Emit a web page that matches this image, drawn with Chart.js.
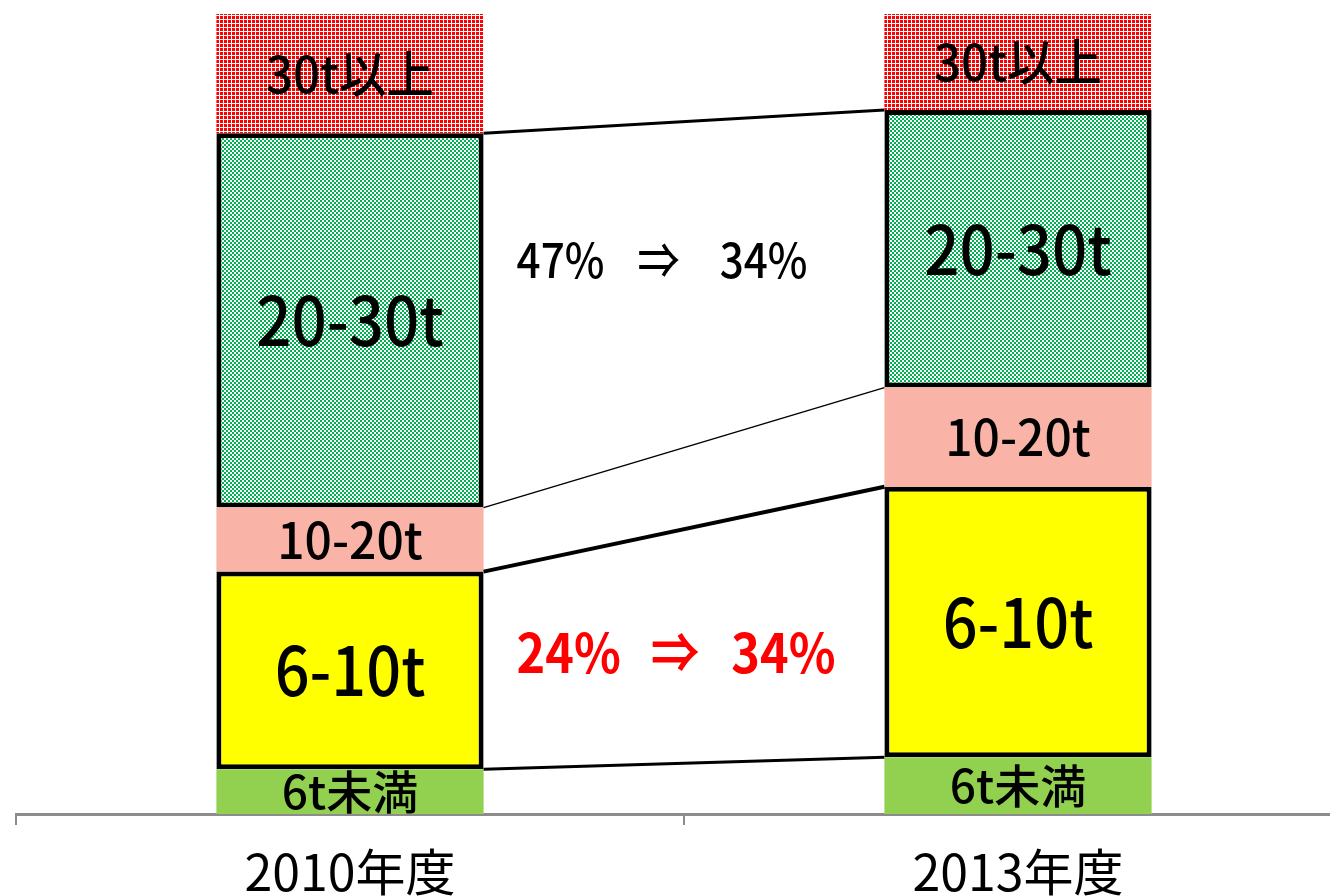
<!DOCTYPE html>
<html lang="ja">
<head>
<meta charset="utf-8">
<script src="https://cdn.jsdelivr.net/npm/chart.js@4.4.1/dist/chart.umd.min.js"></script>
<style>
  html, body { margin: 0; padding: 0; background: #fff; overflow: hidden; }
  canvas { display: block; }
</style>
</head>
<body>
<canvas id="chart" width="1366" height="926"></canvas>
<script>
// Share of trucks by size class (%), 2010 vs 2013
const years = ["2010年度", "2013年度"];
const sizeClasses = ["6t未満", "6-10t", "10-20t", "20-30t", "30t以上"];
const under6 = [5.6, 7.1];
const from6to10 = [24.7, 33.8];
const from10to20 = [8.0, 12.4];
const from20to30 = [46.8, 34.7];
const over30 = [14.9, 12.0];
const shiftNotes = [["47%", "⇒", "34%"], ["24%", "⇒", "34%"]];

const FONT = '"Noto Sans CJK JP", "Noto Sans", sans-serif';

// small tiled fills for the hatched segments
function makePattern(color, cells, size) {
  const c = document.createElement("canvas");
  c.width = size;
  c.height = size;
  const g = c.getContext("2d");
  g.fillStyle = "#fff";
  g.fillRect(0, 0, size, size);
  g.fillStyle = color;
  cells.forEach((r) => g.fillRect(r[0], r[1], r[2], r[3]));
  return g.createPattern(c, "repeat");
}
const greenCheck = makePattern("#00b050", [[0, 0, 2, 2], [2, 2, 2, 2]], 4);
const redDots = makePattern("#ff0000", [[0, 0, 3, 3]], 4);

function drawText(ctx, text, x, y, size, sx, color, weight, align) {
  ctx.save();
  ctx.font = `${weight || "normal"} ${size}px ${FONT}`;
  ctx.fillStyle = color;
  ctx.textAlign = align || "center";
  ctx.textBaseline = "middle";
  ctx.translate(x, y);
  ctx.scale(sx, 1);
  ctx.fillText(text, 0, 0);
  ctx.restore();
}

// connector lines between the two bars + labels inside segments
const overlayPlugin = {
  id: "overlay",
  afterDatasetsDraw(chart, args, opts) {
    const ctx = chart.ctx;

    opts.connectors.forEach((c) => {
      const meta = chart.getDatasetMeta(c.dataset);
      const a = meta.data[0];
      const b = meta.data[1];
      const ax = a.x + a.width / 2;
      const bx = b.x - b.width / 2;
      ctx.save();
      ctx.strokeStyle = "#000";
      ctx.lineWidth = c.top;
      ctx.beginPath();
      ctx.moveTo(ax, a.y);
      ctx.lineTo(bx, b.y);
      ctx.stroke();
      ctx.lineWidth = c.bottom;
      ctx.beginPath();
      ctx.moveTo(ax, a.base);
      ctx.lineTo(bx, b.base);
      ctx.stroke();
      ctx.restore();
    });

    chart.data.datasets.forEach((ds, i) => {
      const meta = chart.getDatasetMeta(i);
      const st = opts.labelStyle[i];
      meta.data.forEach((bar) => {
        const cy = (bar.y + bar.base) / 2;
        drawText(ctx, ds.label, bar.x, cy, st.size, st.sx, "#000", st.weight);
      });
    });

    const yScale = chart.scales.y;
    const first = chart.getDatasetMeta(0).data[0];
    const x0 = first.x + first.width / 2 + opts.noteGap;
    opts.notes.forEach((n, k) => {
      const parts = shiftNotes[k];
      const y = yScale.getPixelForValue(n.level);
      ctx.save();
      ctx.font = `${n.weight} ${n.size}px ${FONT}`;
      let x = x0;
      parts.forEach((p, j) => {
        const w = ctx.measureText(p).width * n.sx;
        drawText(ctx, p, x, y, n.size, n.sx, n.color, n.weight, "left");
        x += w + n.gaps[j];
      });
      ctx.restore();
    });
  },
};

const fills = ["#92d050", "#ffff00", "#f9b3a7", greenCheck, redDots];
const borders = [0, 5, 0, 5, 0];
const seriesValues = [under6, from6to10, from10to20, from20to30, over30];

new Chart(document.getElementById("chart"), {
  type: "bar",
  data: {
    labels: years,
    datasets: sizeClasses.map((name, i) => ({
      label: name,
      data: seriesValues[i],
      backgroundColor: fills[i],
      borderColor: "#000",
      borderWidth: borders[i],
      borderSkipped: false,
      barPercentage: 0.4,
      categoryPercentage: 1,
    })),
  },
  plugins: [overlayPlugin],
  options: {
    responsive: false,
    animation: false,
    layout: { padding: { left: 16, right: 14, top: 14, bottom: 7 } },
    plugins: {
      legend: { display: false },
      tooltip: { enabled: false },
      overlay: {
        connectors: [
          { dataset: 3, top: 3, bottom: 1.5 },
          { dataset: 1, top: 4, bottom: 3 },
        ],
        labelStyle: [
          { size: 46, sx: 1, weight: "500" },
          { size: 68, sx: 0.9, weight: "500" },
          { size: 50, sx: 0.96, weight: "500" },
          { size: 68, sx: 0.91, weight: "500" },
          { size: 50, sx: 0.95, weight: "500" },
        ],
        noteGap: 33,
        notes: [
          { level: 69.3, size: 48, sx: 0.88, color: "#000", weight: "500", gaps: [33, 40] },
          { level: 20.2, size: 54, sx: 0.9, color: "#ff0000", weight: "bold", gaps: [30, 32] },
        ],
      },
    },
    scales: {
      x: {
        stacked: true,
        grid: {
          offset: true,
          drawOnChartArea: false,
          drawTicks: true,
          tickLength: 11,
          color: "#8c8c8c",
          lineWidth: 2,
        },
        border: { display: true, color: "#8c8c8c", width: 3 },
        ticks: {
          color: "#000",
          padding: 17,
          font: { family: FONT, size: 50 },
        },
      },
      y: {
        stacked: true,
        display: false,
        min: 0,
        max: 100,
      },
    },
  },
});
</script>
</body>
</html>
